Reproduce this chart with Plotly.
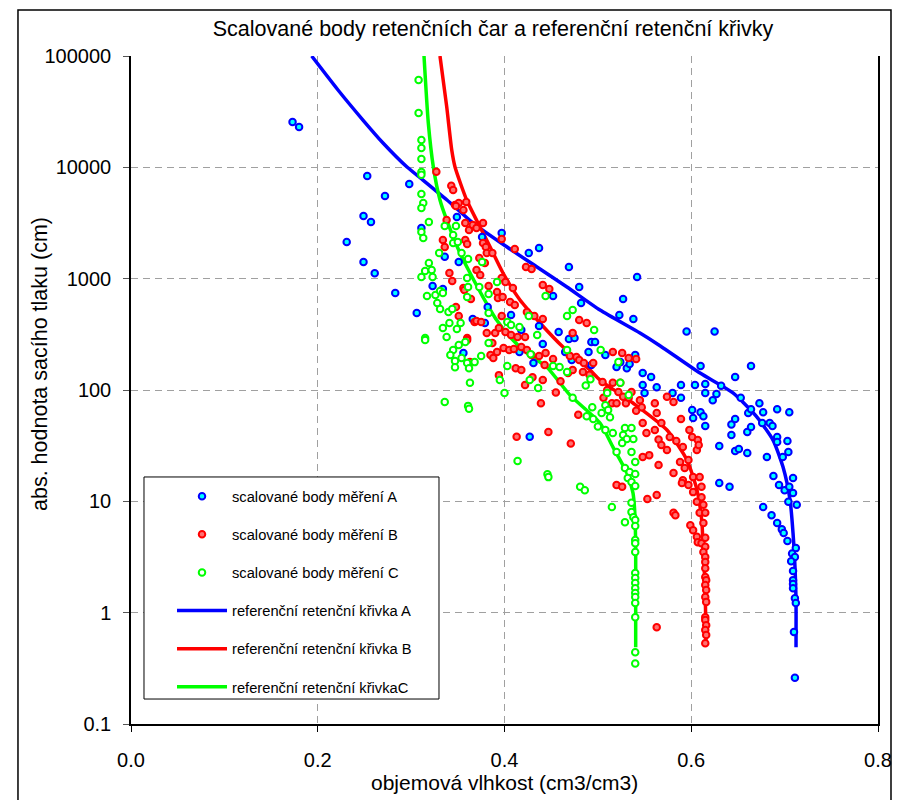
import plotly.graph_objects as go

# ---------------- data ----------------
theta_A = [0.173, 0.180, 0.253, 0.272, 0.298, 0.249, 0.257, 0.231, 0.249, 0.261,
           0.283, 0.306, 0.311, 0.349, 0.336, 0.351, 0.323, 0.334, 0.366, 0.397,
           0.376, 0.437, 0.426, 0.469, 0.542, 0.480, 0.452, 0.527, 0.482, 0.382,
           0.407, 0.523, 0.538, 0.379, 0.437, 0.418, 0.458, 0.469, 0.475, 0.493,
           0.497, 0.441, 0.465, 0.490, 0.508, 0.356, 0.416, 0.540, 0.524, 0.531,
           0.520, 0.493, 0.472, 0.431, 0.610, 0.664, 0.548, 0.557, 0.534, 0.647,
           0.548, 0.563, 0.589, 0.604, 0.615, 0.632, 0.550, 0.580, 0.589, 0.615,
           0.627, 0.623, 0.653, 0.673, 0.677, 0.692, 0.705, 0.661, 0.664, 0.601,
           0.610, 0.613, 0.615, 0.602, 0.643, 0.647, 0.676, 0.684, 0.687, 0.660,
           0.664, 0.630, 0.643, 0.647, 0.651, 0.660, 0.692, 0.692, 0.703, 0.704,
           0.698, 0.681, 0.688, 0.694, 0.700, 0.709, 0.705, 0.709, 0.704, 0.713,
           0.630, 0.641, 0.677, 0.686, 0.692, 0.697, 0.699, 0.703, 0.712, 0.708,
           0.711, 0.707, 0.709, 0.709, 0.709, 0.709, 0.711, 0.712, 0.710, 0.711,
           0.427, 0.595, 0.625]
h_A = [25500, 23000, 8350, 5520, 7080, 3650, 3230, 2130, 1410, 1120,
       743, 492, 2850, 3580, 1570, 1410, 859, 807, 435, 2570,
       2370, 1884, 1700, 1273, 1035, 842, 698, 656, 604, 556,
       472, 472, 435, 400, 376, 346, 332, 287, 293, 270,
       270, 259, 219, 219, 206, 215, 219, 206, 178, 157,
       161, 168, 186, 175, 164, 164, 142, 131, 171, 131,
       111, 106, 111, 111, 113, 109, 94, 94, 85, 94,
       92, 81, 85, 76, 63, 67, 63, 62, 67, 66,
       63, 58, 47.5, 56, 49, 55, 50.5, 50.5, 47.5, 42,
       46.5, 31.4, 39.4, 28.3, 29.5, 27.2, 37.8, 34.1, 34.8, 27.7,
       25, 25, 16.9, 14, 12.6, 16.2, 13.5, 11.9, 9.9, 9.3,
       14.6, 13.5, 8.9, 7.5, 6.4, 5.6, 5.2, 4.4, 3.8, 3.4,
       3.16, 2.9, 2.37, 1.96, 1.81, 1.66, 1.35, 1.22, 0.67, 0.26,
       38, 335, 335]

theta_B = [0.327, 0.343, 0.345, 0.347, 0.351, 0.356, 0.359, 0.348, 0.358, 0.362,
           0.366, 0.370, 0.377, 0.338, 0.334, 0.336, 0.358, 0.360, 0.377, 0.380,
           0.381, 0.387, 0.397, 0.411, 0.373, 0.379, 0.423, 0.429, 0.341, 0.344,
           0.356, 0.364, 0.370, 0.374, 0.348, 0.351, 0.368, 0.360, 0.357, 0.383,
           0.392, 0.397, 0.401, 0.409, 0.441, 0.448, 0.393, 0.398, 0.406, 0.411,
           0.424, 0.432, 0.441, 0.370, 0.375, 0.397, 0.381, 0.390, 0.394, 0.401,
           0.407, 0.414, 0.422, 0.360, 0.387, 0.392, 0.399, 0.405, 0.410, 0.418,
           0.424, 0.429, 0.437, 0.444, 0.452, 0.473, 0.480, 0.488, 0.470, 0.477,
           0.480, 0.485, 0.495, 0.516, 0.526, 0.533, 0.541, 0.412, 0.418, 0.363,
           0.385, 0.388, 0.443, 0.468, 0.484, 0.491, 0.473, 0.505, 0.516, 0.524,
           0.510, 0.522, 0.527, 0.536, 0.506, 0.515, 0.520, 0.530, 0.541, 0.547,
           0.533, 0.545, 0.561, 0.563, 0.574, 0.581, 0.589, 0.568, 0.548, 0.552,
           0.561, 0.565, 0.568, 0.574, 0.577, 0.584, 0.591, 0.598, 0.601, 0.607,
           0.606, 0.608, 0.548, 0.555, 0.565, 0.588, 0.593, 0.597, 0.581, 0.591,
           0.597, 0.602, 0.609, 0.611, 0.602, 0.606, 0.611, 0.613, 0.609, 0.615,
           0.613, 0.599, 0.602, 0.606, 0.607, 0.611, 0.615, 0.615, 0.613, 0.615,
           0.615, 0.615, 0.615, 0.616, 0.615, 0.616, 0.615, 0.616, 0.615, 0.615,
           0.616, 0.615, 0.616, 0.615, 0.563, 0.520, 0.526, 0.553, 0.563, 0.581,
           0.583, 0.590, 0.413, 0.439, 0.447, 0.471, 0.441, 0.422, 0.394, 0.479,
           0.455, 0.460, 0.430]
h_B = [9140, 6840, 6250, 4590, 4790, 4140, 4890, 4500, 3160, 2735,
       3030, 2850, 3160, 3365, 2225, 1925, 2225, 2050, 2090, 1925,
       1700, 1700, 2270, 1845, 1535, 1384, 1273, 1222, 1124, 953,
       824, 656, 1197, 1080, 556, 462, 408, 293, 791, 859,
       759, 1014, 933, 824, 877, 807, 670, 684, 617, 580,
       501, 462, 435, 417, 408, 462, 325, 325, 360, 332,
       312, 299, 299, 281, 264, 219, 238, 229, 233, 243,
       229, 206, 202, 215, 190, 325, 425, 400, 202, 198,
       186, 175, 175, 219, 215, 194, 190, 157, 151, 178,
       206, 194, 168, 142, 145, 137, 151, 118, 116, 116,
       100, 96, 87, 96, 85, 76, 76, 76, 65, 70,
       85, 81, 76, 62, 87, 78, 55, 50.5, 50.5, 41,
       43.7, 36, 32, 28.9, 37.8, 34.8, 30.8, 43.7, 37.8, 35.5,
       28.9, 32, 25, 26, 21.2, 22.6, 19.9, 23.5, 18, 15.5,
       14, 16.5, 16.5, 13.5, 12.1, 9.9, 10.9, 9.3, 7.9, 7.9,
       6.4, 6.1, 5.5, 4.8, 4.3, 4.2, 4.7, 3.9, 3.5, 3.16,
       2.85, 2.5, 2.09, 1.96, 1.77, 1.6, 1.38, 1.25, 0.91, 0.86,
       0.77, 0.70, 0.63, 0.53, 0.74, 14, 13.5, 10.5, 11.4, 7.9,
       7.5, 14.6, 38, 76, 42, 33, 123, 111, 136, 60,
       95, 120, 130]

theta_C = [0.308, 0.308, 0.311, 0.311, 0.311, 0.311, 0.311, 0.311, 0.313, 0.311,
           0.319, 0.311, 0.313, 0.336, 0.348, 0.345, 0.345, 0.350, 0.330, 0.354,
           0.361, 0.319, 0.315, 0.322, 0.323, 0.311, 0.317, 0.326, 0.331, 0.334,
           0.328, 0.331, 0.340, 0.344, 0.341, 0.353, 0.334, 0.349, 0.315, 0.338,
           0.361, 0.373, 0.376, 0.383, 0.392, 0.360, 0.360, 0.383, 0.403, 0.407,
           0.416, 0.426, 0.444, 0.467, 0.473, 0.496, 0.383, 0.403, 0.428, 0.435,
           0.452, 0.459, 0.467, 0.467, 0.503, 0.522, 0.358, 0.351, 0.345, 0.342,
           0.354, 0.360, 0.362, 0.368, 0.375, 0.347, 0.315, 0.524, 0.510, 0.533,
           0.508, 0.511, 0.504, 0.513, 0.529, 0.536, 0.508, 0.516, 0.527, 0.531,
           0.538, 0.526, 0.536, 0.520, 0.529, 0.534, 0.540, 0.532, 0.540, 0.536,
           0.540, 0.536, 0.536, 0.538, 0.540, 0.540, 0.540, 0.540, 0.540, 0.540,
           0.540, 0.540, 0.540, 0.540, 0.540, 0.540, 0.540, 0.540, 0.540, 0.515,
           0.529, 0.414, 0.446, 0.447, 0.481, 0.486, 0.361, 0.362, 0.336, 0.347,
           0.395, 0.400, 0.363, 0.427, 0.436, 0.473, 0.494, 0.488, 0.495, 0.500,
           0.487, 0.492]
h_C = [60800, 30800, 17600, 14900, 11900, 9080, 8600, 5760, 4790, 4320,
       3230, 2630, 2320, 2970, 2970, 2470, 2090, 2130, 1700, 1700,
       1500, 1384, 1172, 1197, 1035, 1035, 698, 713, 774, 743,
       604, 533, 501, 533, 400, 400, 360, 353, 293, 299,
       842, 842, 1413, 728, 933, 1014, 684, 492, 408, 384,
       368, 462, 698, 462, 523, 346, 264, 164, 210, 312,
       164, 161, 145, 229, 229, 178, 270, 254, 229, 206,
       194, 175, 157, 178, 202, 182, 281, 116, 94, 90,
       73, 66, 62, 57, 45.5, 45.5, 43.7, 41, 39.4, 36.3,
       36.3, 33.4, 27.7, 27.7, 19.9, 18.3, 22.6, 16.2, 17.6, 14.9,
       13.7, 9.7, 8.0, 7.2, 6.8, 6.0, 4.5, 4.2, 3.5, 2.27,
       2.05, 1.85, 1.66, 1.5, 1.38, 1.22, 0.91, 0.44, 0.35, 8.9,
       6.5, 23, 17.5, 16.5, 13.5, 12.6, 72, 68, 78, 160,
       123, 94, 116, 123, 104, 85, 70, 58, 55, 47,
       110, 125]

# reference retention curves
curve_A_theta = [0.1935, 0.2217, 0.2484, 0.2699, 0.2956, 0.3127, 0.3384, 0.3663, 0.4027, 0.4348,
                 0.4669, 0.5023, 0.5451, 0.5665, 0.6094, 0.6447, 0.6704, 0.6876, 0.6983, 0.7058,
                 0.7090, 0.7111, 0.7122, 0.7122]
curve_A_h = [100000, 49500, 26600, 16550, 10070, 7690, 5090, 3160, 1925, 1273,
             842, 523, 325, 250, 142, 94, 57, 35.5, 20.3, 10.3,
             5.19, 2.57, 1.30, 0.49]
curve_B_theta = [0.3309, 0.3381, 0.3435, 0.3470, 0.3595, 0.3738, 0.3845, 0.3984, 0.4166, 0.4380,
                 0.4627, 0.4916, 0.5023, 0.5376, 0.5740, 0.5954, 0.6062, 0.6115, 0.6126, 0.6147,
                 0.6158]
curve_B_h = [100000, 35100, 14300, 10070, 5090, 2910, 1936, 1124, 643, 400,
             243, 151, 123, 76.4, 43.7, 23.5, 12.6, 6.39, 3.65, 1.85,
             0.53]
curve_C_theta = [0.3138, 0.3184, 0.3238, 0.3309, 0.3381, 0.3523, 0.3631, 0.3770, 0.3916, 0.4059,
                 0.4238, 0.4452, 0.4701, 0.5023, 0.5162, 0.5312, 0.5376, 0.5398, 0.5405, 0.5405,
                 0.5405]
curve_C_h = [100000, 25000, 10070, 5090, 3370, 1700, 1124, 684, 425, 299,
             215, 161, 90, 50.5, 30.7, 17.9, 11.9, 7.2, 3.65, 1.85,
             0.49]

x_ticks = [0.0, 0.2, 0.4, 0.6, 0.8]
x_ticklabels = ["0.0", "0.2", "0.4", "0.6", "0.8"]
y_ticks = [0.1, 1, 10, 100, 1000, 10000, 100000]
y_ticklabels = ["0.1", "1", "10", "100", "1000", "10000", "100000"]

title_text = "Scalované body retenčních čar a referenční retenční křivky"
x_title = "objemová vlhkost (cm3/cm3)"
y_title = "abs. hodnota sacího tlaku (cm)"
names = ["scalované body měření A", "scalované body měření B", "scalované body měření C",
         "referenční retenční křivka A", "referenční retenční křivka B", "referenční retenční křivkaC"]

FONT = "Liberation Sans, Arial, sans-serif"

fig = go.Figure()

# curves (drawn first, below points)
for i, (tx, hy, col) in enumerate([(curve_A_theta, curve_A_h, "#0000FF"),
                                   (curve_B_theta, curve_B_h, "#FF0000"),
                                   (curve_C_theta, curve_C_h, "#00FF00")]):
    fig.add_trace(go.Scatter(x=tx, y=hy, mode="lines", name=names[3 + i],
                             line=dict(color=col, width=3.5, shape="spline", smoothing=0.6),
                             legendgroup=f"g{3+i}", legendrank=4 + i))

for i, (tx, hy, edge, fill) in enumerate([(theta_A, h_A, "#0000FF", "#00FFFF"),
                                          (theta_B, h_B, "#FF0000", "#FF7070"),
                                          (theta_C, h_C, "#00FF00", "#FFFFFF")]):
    fig.add_trace(go.Scatter(x=tx, y=hy, mode="markers", name=names[i],
                             marker=dict(size=6.5, color=fill, line=dict(color=edge, width=2)),
                             legendgroup=f"g{i}", legendrank=1 + i))

fig.update_layout(
    width=906, height=800,
    margin=dict(l=131, r=28, t=56, b=76),
    paper_bgcolor="white", plot_bgcolor="white",
    font=dict(family=FONT, size=20, color="black"),
    title=dict(text=title_text, x=493 / 906, xref="container", xanchor="center",
               y=1 - 28 / 800, yref="container", yanchor="middle", font=dict(size=21.5)),
    showlegend=True,
    legend=dict(x=0.0549, y=0.365, xanchor="left", yanchor="top",
                bgcolor="rgba(0,0,0,0)", borderwidth=0, itemwidth=50,
                font=dict(size=14.7), tracegroupgap=16, traceorder="grouped"),
    shapes=[
        # legend frame
        dict(type="rect", xref="paper", yref="paper", x0=0.0174, x1=0.4123, y0=0.0374, y1=0.3698,
             line=dict(color="black", width=1), fillcolor="white", layer="above"),
        # outer chart frame
        dict(type="rect", xref="paper", yref="paper", x0=-0.1513, x1=1.0174, y0=-0.13, y1=1.0689,
             line=dict(color="black", width=1.5), fillcolor="rgba(0,0,0,0)", layer="above"),
    ],
    annotations=[
        dict(text=x_title, xref="paper", yref="paper", x=0.5, y=(724 - 782) / 668,
             xanchor="center", yanchor="middle", showarrow=False, font=dict(size=21)),
        dict(text=y_title, xref="paper", yref="paper", x=(40 - 131) / 747, y=(724 - 364) / 668,
             xanchor="center", yanchor="middle", showarrow=False, textangle=-90,
             font=dict(size=21.5)),
    ],
)

fig.update_xaxes(range=[0, 0.8], tickvals=x_ticks, ticktext=x_ticklabels,
                 showline=True, linecolor="black", linewidth=1.5,
                 ticks="outside", ticklen=6, tickcolor="black", ticklabelstandoff=11,
                 showgrid=True, gridcolor="#A0A0A0", griddash="7px,5px", gridwidth=1,
                 zeroline=False)
fig.update_yaxes(type="log", range=[-1, 5], tickvals=y_ticks, ticktext=y_ticklabels,
                 showline=True, linecolor="black", linewidth=1.5, mirror=True,
                 ticks="outside", ticklen=6, tickcolor="#555555", ticklabelstandoff=8,
                 showgrid=True, gridcolor="#A0A0A0", griddash="7px,5px", gridwidth=1,
                 zeroline=False)

fig.write_html("out.html")
